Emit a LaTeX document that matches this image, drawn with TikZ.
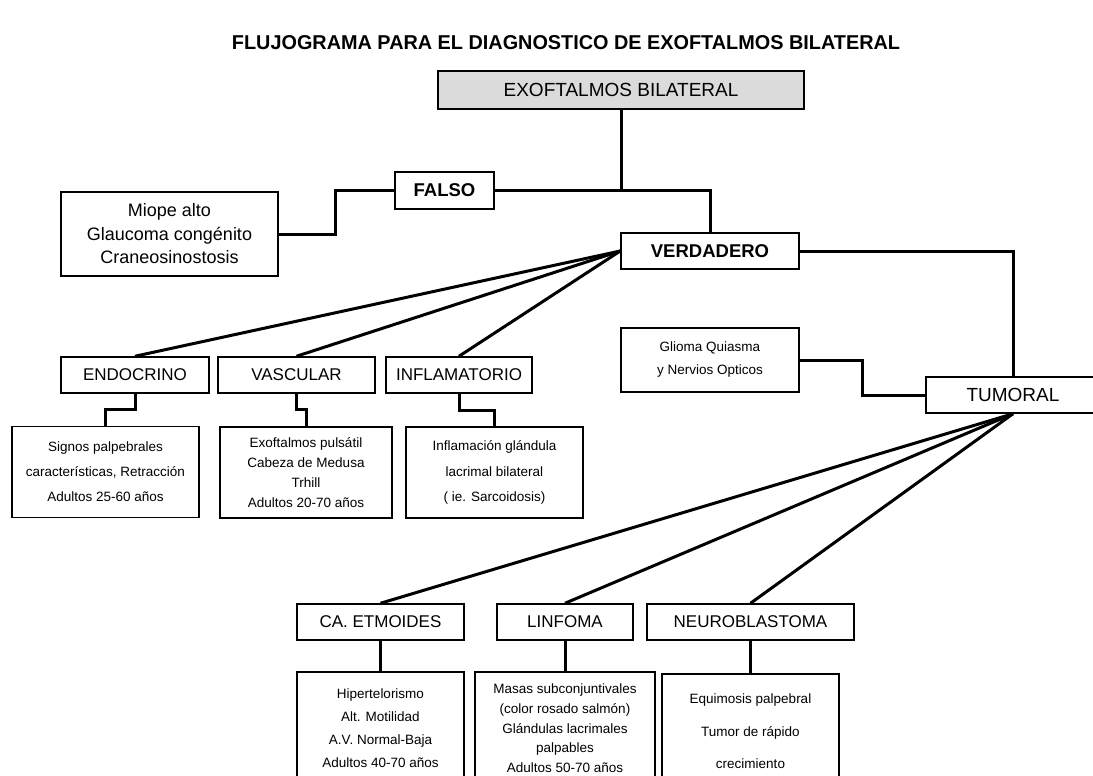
\documentclass[tikz,border=0pt]{standalone}
\usepackage{fontspec}
\setmainfont{Liberation Sans}
\def\fs#1#2{\fontsize{#1}{#2}\selectfont}

\begin{document}
\begin{tikzpicture}[x=1pt,y=-1pt]
    \tikzstyle{box}=[draw=black,line width=1.5pt,fill=white,inner sep=0pt,align=center]
    \tikzstyle{cat}=[box,minimum height=36pt,font=\fs{17}{20}]
    \tikzstyle{info}=[box,minimum height=91pt]
    \tikzstyle{link}=[line width=3pt]

    \useasboundingbox (0,0) rectangle (1093,776);

    \node (title) at (566,43) {\resizebox{668pt}{14pt}{\bfseries FLUJOGRAMA PARA EL DIAGNOSTICO DE EXOFTALMOS BILATERAL}};

    \node[box,fill=black!14,line width=2pt,minimum width=366pt,minimum height=38pt,font=\fs{19}{22}] (exo) at (621,90) {EXOFTALMOS BILATERAL};
    \node[box,minimum width=99pt,minimum height=37pt,font=\fs{18.5}{22}\bfseries] (falso) at (444.5,190.5) {FALSO};
    \node[box,minimum width=178pt,minimum height=36pt,font=\fs{18.5}{22}\bfseries] (verd) at (710,251) {VERDADERO};
    \node[box,minimum width=217pt,minimum height=84pt,font=\fs{18}{23.5}] (miope) at (169.5,234) {Miope alto\\Glaucoma congénito\\Craneosinostosis};
    \node[box,minimum width=178pt,minimum height=64pt,font=\fs{13.5}{23}] (glioma) at (710,360) {Glioma Quiasma\\y Nervios Opticos};
    \node[box,minimum width=174pt,minimum height=36pt,font=\fs{19}{22}] (tumoral) at (1013,395) {TUMORAL};

    \foreach \name/\x/\w/\txt in {endo/135/148/ENDOCRINO, vasc/296.5/157/VASCULAR, infl/459/146/INFLAMATORIO}
        \node[cat,minimum width=\w pt] (\name) at (\x,375) {\txt};

    \foreach \name/\x/\w/\txt in {ca/380.5/167/CA. ETMOIDES, linf/565/136/LINFOMA, neuro/750.5/207/NEUROBLASTOMA}
        \node[cat,minimum width=\w pt] (\name) at (\x,622) {\txt};

    \node[info,minimum width=187pt,font=\fs{13.5}{25}] (signos) at (105.5,472) {Signos palpebrales\\características, Retracción\\Adultos 25-60 años};
    \node[info,minimum width=172pt,font=\fs{13.5}{20}] (pulsatil) at (306,472.5) {Exoftalmos pulsátil\\Cabeza de Medusa\\Trhill\\Adultos 20-70 años};
    \node[info,minimum width=177pt,font=\fs{13.5}{25.5}] (lacrimal) at (494.5,472.5) {Inflamación glándula\\lacrimal bilateral\\( ie. Sarcoidosis)};

    \node[box,anchor=north,minimum width=167pt,minimum height=113pt,font=\fs{13.5}{23}] (hiper) at (380.5,671) {Hipertelorismo\\Alt. Motilidad\\A.V. Normal-Baja\\Adultos 40-70 años};
    \node[box,anchor=north,minimum width=180pt,minimum height=113pt,font=\fs{13.5}{19.7}] (masas) at (565,671) {Masas subconjuntivales\\(color rosado salmón)\\Glándulas lacrimales\\palpables\\Adultos 50-70 años};
    \node[box,anchor=north,minimum width=177pt,minimum height=115pt,font=\fs{13.5}{32.5}] (equim) at (750.5,673) {Equimosis palpebral\\Tumor de rápido\\crecimiento};

    \draw[link] (exo.south) -- (exo.south |- falso.east);
    \draw[link] (falso.east) -| (verd.north);
    \draw[link] (miope.east) -- ++(57,0) |- (falso.west);
    \draw[link] (verd.east) -| (tumoral.north);
    \draw[link] (glioma.east) -- ++(63,0) |- (tumoral.west);

    \foreach \dest in {endo,vasc,infl}
        \draw[link] (verd.west) -- (\dest.north);

    \foreach \dest in {ca,linf,neuro}
        \draw[link] (tumoral.south) -- (\dest.north);

    \draw[link] (endo.south) -- ++(0,16) -| (signos.north);
    \draw[link] (vasc.south) -- ++(0,16) -| (pulsatil.north);
    \draw[link] (infl.south) -- ++(0,17) -| (lacrimal.north);

    \foreach \source/\dest in {ca/hiper,linf/masas,neuro/equim}
        \draw[link] (\source.south) -- (\dest.north);
\end{tikzpicture}
\end{document}
